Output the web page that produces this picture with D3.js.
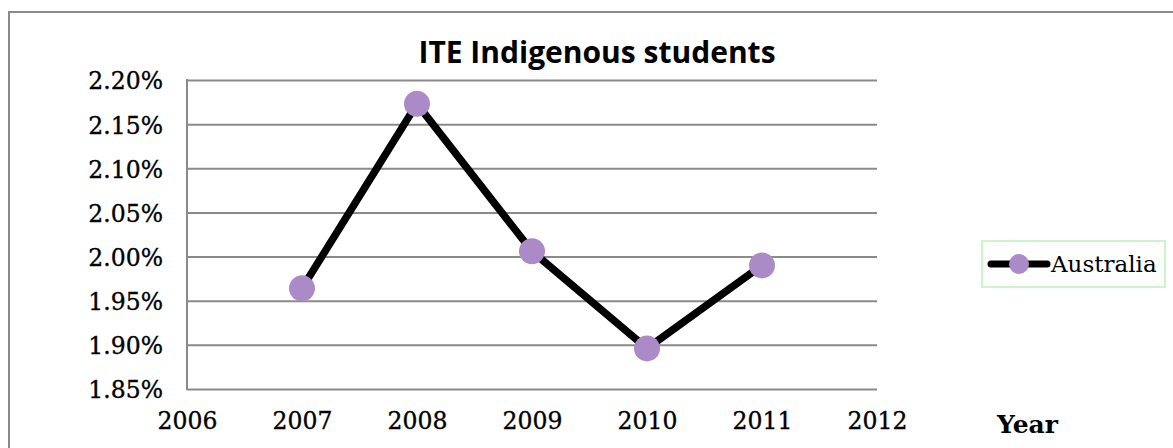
<!DOCTYPE html>
<html>
<head>
<meta charset="utf-8">
<script src="https://cdn.jsdelivr.net/npm/d3@7"></script>
<style>
  html, body { margin: 0; padding: 0; background: #fff; overflow: hidden; }
</style>
</head>
<body>
<div id="chart"></div>
<script>
// chart data
const years = [2007, 2008, 2009, 2010, 2011];
const australia = [1.964, 2.173, 2.006, 1.896, 1.990];
const xTicks = [2006, 2007, 2008, 2009, 2010, 2011, 2012];
const yTicks = [1.85, 1.90, 1.95, 2.00, 2.05, 2.10, 2.15, 2.20];
const seriesName = "Australia";

const width = 1173, height = 448;
const plot = { "left": 187, "right": 877, "top": 80, "bottom": 389 };
const gridColor = "#8a8a8a";
const markerColor = "#ab8bc7";
const serif = "'DejaVu Serif', serif";

const svg = d3.select("#chart").append("svg")
    .attr("width", width).attr("height", height);

// outer border (runs past the window on the right and bottom)
svg.append("rect")
    .attr("x", 9).attr("y", 12).attr("width", 1300).attr("height", 600)
    .attr("fill", "none").attr("stroke", gridColor).attr("stroke-width", 2);

// scales
const x = d3.scaleLinear().domain([2006, 2012]).range([plot.left, plot.right]);
const y = d3.scaleLinear().domain([1.85, 2.20]).range([plot.bottom, plot.top]);

// horizontal gridlines
const yGrid = d3.axisLeft(y).tickValues(yTicks)
    .tickSize(-(plot.right - plot.left)).tickFormat(() => "");
svg.append("g").attr("class", "yGrid")
    .attr("transform", "translate(" + plot.left + ",0)")
    .call(yGrid)
    .call(g => g.select(".domain").remove())
    .call(g => g.selectAll("line").attr("stroke", gridColor).attr("stroke-width", 2));

// left axis line
svg.append("line")
    .attr("x1", plot.left).attr("x2", plot.left)
    .attr("y1", plot.top - 1).attr("y2", plot.bottom + 1)
    .attr("stroke", gridColor).attr("stroke-width", 2);

// y tick labels
const yAxis = d3.axisLeft(y).tickValues(yTicks).tickSize(0).tickPadding(24)
    .tickFormat(d => d.toFixed(2) + "%");
svg.append("g").attr("class", "y-axis")
    .attr("transform", "translate(" + plot.left + ",0)")
    .call(yAxis)
    .call(g => g.select(".domain").remove())
    .call(g => g.selectAll("text")
        .attr("font-family", serif).attr("font-size", "23.5px").attr("fill", "#000")
        .attr("stroke", "#000").attr("stroke-width", 0.35)
        .attr("dy", "0.38em"));

// x tick labels
const xAxis = d3.axisBottom(x).tickValues(xTicks).tickSize(0).tickPadding(23)
    .tickFormat(d3.format("d"));
svg.append("g").attr("class", "x-axis")
    .attr("transform", "translate(0," + plot.bottom + ")")
    .call(xAxis)
    .call(g => g.select(".domain").remove())
    .call(g => g.selectAll("text")
        .attr("font-family", serif).attr("font-size", "23.5px").attr("fill", "#000")
        .attr("stroke", "#000").attr("stroke-width", 0.35));

// x axis title
svg.append("text").attr("class", "x-label")
    .attr("x", 997).attr("y", 433)
    .attr("font-family", serif).attr("font-weight", "bold").attr("font-size", "25px")
    .text("Year");

// chart title
svg.append("text").attr("class", "title").attr("text-anchor", "middle")
    .attr("x", 597).attr("y", 63)
    .attr("font-family", "'Open Sans', sans-serif").attr("font-weight", "bold")
    .attr("font-size", "30px")
    .text("ITE Indigenous students");

// the line
const points = years.map((d, i) => ({ year: d, value: australia[i] }));
const lineGen = d3.line().x(d => x(d.year)).y(d => y(d.value));
svg.append("path").datum(points)
    .attr("fill", "none").attr("stroke", "#000").attr("stroke-width", 7.5)
    .attr("stroke-linejoin", "round")
    .attr("d", lineGen);

// markers
svg.selectAll("circle.pt").data(points)
    .join("circle").attr("class", "pt")
    .attr("cx", d => x(d.year)).attr("cy", d => y(d.value))
    .attr("r", 13).attr("fill", markerColor);

// legend
const legend = svg.append("g").attr("class", "legend");
legend.append("rect")
    .attr("x", 982).attr("y", 241).attr("width", 183).attr("height", 46)
    .attr("fill", "#fff").attr("stroke", "#ccf5cc").attr("stroke-width", 2);
legend.append("line")
    .attr("x1", 991).attr("x2", 1047).attr("y1", 264).attr("y2", 264)
    .attr("stroke", "#000").attr("stroke-width", 7).attr("stroke-linecap", "round");
legend.append("circle")
    .attr("cx", 1019).attr("cy", 264).attr("r", 10).attr("fill", markerColor);
legend.append("text")
    .attr("x", 1051).attr("y", 272)
    .attr("font-family", serif).attr("font-size", "23px")
    .text(seriesName);
</script>
</body>
</html>
